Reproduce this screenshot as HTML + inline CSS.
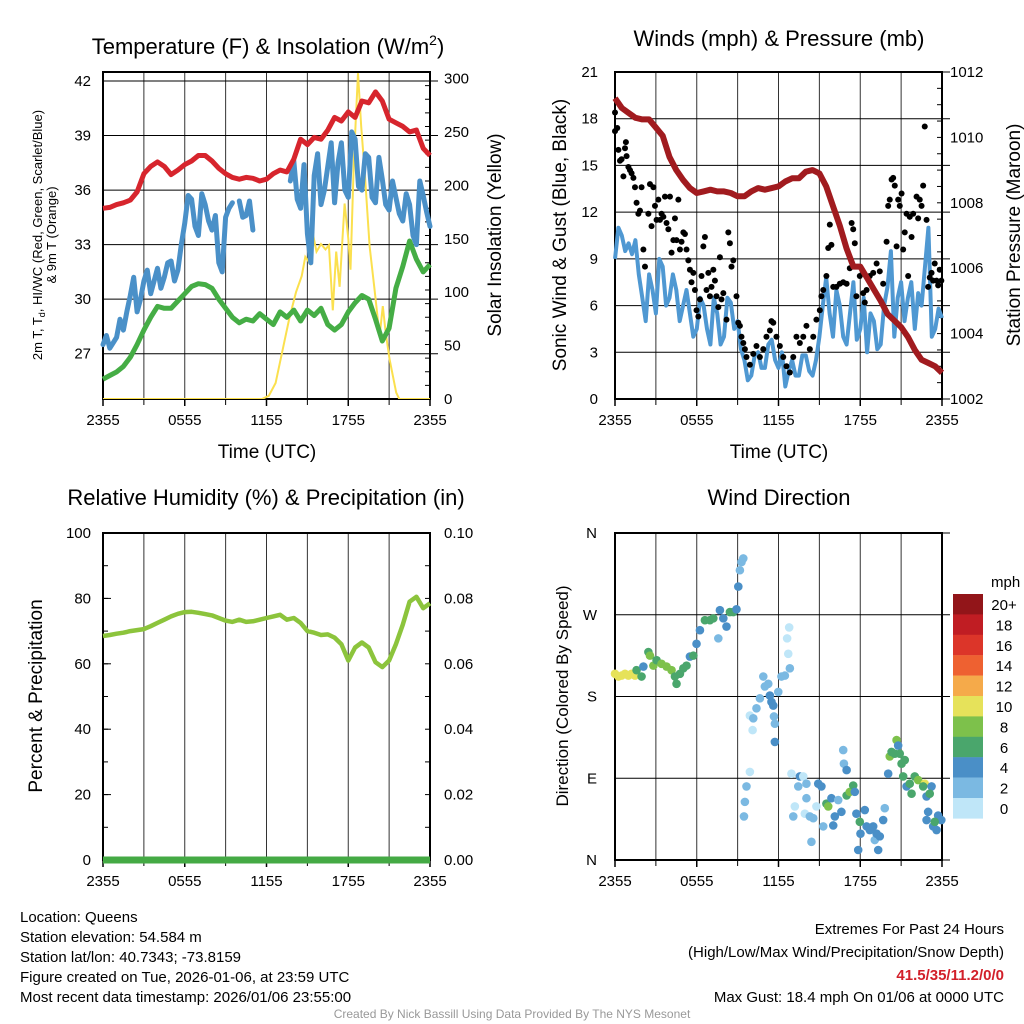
<!DOCTYPE html>
<html><head><meta charset="utf-8"><style>
body{margin:0;background:#fff}
svg{display:block;font-family:"Liberation Sans",sans-serif}
</style></head><body>
<svg id="c" width="1024" height="1024" viewBox="0 0 1024 1024" xmlns="http://www.w3.org/2000/svg">
<g font-size="22" text-anchor="middle">
<text x="268" y="54">Temperature (F) &amp; Insolation (W/m<tspan font-size="14" dy="-9">2</tspan><tspan dy="9">)</tspan></text>
<text x="779" y="46">Winds (mph) &amp; Pressure (mb)</text>
<text x="266" y="505">Relative Humidity (%) &amp; Precipitation (in)</text>
<text x="779" y="505">Wind Direction</text>
</g>
<g font-size="19" text-anchor="middle">
<text x="267" y="458">Time (UTC)</text>
<text x="779" y="458">Time (UTC)</text>
<text transform="translate(501,235) rotate(-90)">Solar Insolation (Yellow)</text>
<text transform="translate(566,235) rotate(-90)">Sonic Wind &amp; Gust (Blue, Black)</text>
<text transform="translate(1020,235) rotate(-90)">Station Pressure (Maroon)</text>
<text transform="translate(42,696) rotate(-90)">Percent &amp; Precipitation</text>
<text transform="translate(568,696) rotate(-90)" font-size="17">Direction (Colored By Speed)</text>
</g>
<g font-size="13" text-anchor="middle">
<text transform="translate(42,235) rotate(-90)">2m T, T<tspan font-size="9" dy="3">d</tspan><tspan dy="-3">, HI/WC (Red, Green, Scarlet/Blue)</tspan></text>
<text transform="translate(56,235) rotate(-90)">&amp; 9m T (Orange)</text>
</g>
<g font-size="15">
<text x="20" y="922">Location: Queens</text>
<text x="20" y="942">Station elevation: 54.584 m</text>
<text x="20" y="962">Station lat/lon: 40.7343; -73.8159</text>
<text x="20" y="982">Figure created on Tue, 2026-01-06, at 23:59 UTC</text>
<text x="20" y="1002">Most recent data timestamp: 2026/01/06 23:55:00</text>
</g>
<g font-size="15" text-anchor="end">
<text x="1004" y="934">Extremes For Past 24 Hours</text>
<text x="1004" y="957">(High/Low/Max Wind/Precipitation/Snow Depth)</text>
<text x="1004" y="980" fill="#d2202a" font-weight="bold">41.5/35/11.2/0/0</text>
<text x="1004" y="1002">Max Gust: 18.4 mph On 01/06 at 0000 UTC</text>
</g>
<text x="512" y="1018" font-size="12" fill="#999" text-anchor="middle">Created By Nick Bassill Using Data Provided By The NYS Mesonet</text>
</svg>
<script>
// ---------- data (time in minutes since 2355) ----------
const halfHourTimes = Array.from({length:49},(_,i)=>i*30);
const xTickLabels = ["2355","0555","1155","1755","2355"];
const tempTicks = [27,30,33,36,39,42];
const solarTicks = [0,50,100,150,200,250,300];
const windTicks = [0,3,6,9,12,15,18,21];
const pressTicks = [1002,1004,1006,1008,1010,1012];
const rhTicks = [0,20,40,60,80,100];
const precipTicks = ["0.00","0.02","0.04","0.06","0.08","0.10"];
const dirTicks = ["N","E","S","W","N"];
const tempRed = [35.0,35.05,35.2,35.3,35.45,35.9,36.9,37.3,37.55,37.3,36.85,37.1,37.4,37.6,37.9,37.9,37.6,37.2,36.9,36.7,36.6,36.7,36.65,36.5,36.6,36.9,37.1,37.0,37.7,38.8,38.5,38.9,38.8,39.3,40.0,39.8,40.3,40.0,40.9,40.8,41.4,40.9,39.9,39.7,39.5,39.2,39.3,38.3,37.9];
const tempBlue = [27.5,27.3,27.9,28.3,30.2,29.3,31.0,30.3,31.7,31.2,32.1,31.6,34.2,35.5,33.5,35.2,33.8,32.0,34.5,35.3,35.4,34.6,33.8,35.2,null,35.6,35.0,null,37.6,35.0,33.6,36.8,35.2,37.3,35.3,38.6,35.6,38.8,36.0,37.8,35.3,36.6,34.9,35.6,34.3,35.2,33.0,35.7,34.0];
// values at quarter past each half hour (15, 45, ... min)
const tempBlueMid = [28.0,27.6,28.9,29.3,31.2,30.0,31.6,31.0,30.6,32.0,31.0,33.0,35.7,34.0,35.8,34.3,34.6,31.5,35.0,null,34.5,35.4,null,null,null,null,null,36.5,35.5,37.4,32.0,38.0,36.0,38.6,37.5,36.0,39.2,36.2,38.0,35.6,37.8,35.2,36.5,34.7,35.8,33.5,36.5,34.8];
const tempGreen = [25.6,25.8,26.0,26.3,26.8,27.5,28.3,29.0,29.6,29.5,29.5,29.9,30.3,30.7,30.85,30.8,30.6,30.0,29.5,29.0,28.7,28.9,28.8,29.2,28.9,28.6,29.3,29.0,29.4,28.8,29.4,29.1,29.5,28.6,28.3,28.6,29.3,29.8,30.2,30.0,28.9,27.7,28.4,30.6,31.8,33.2,32.2,31.5,31.9];
const solarTimes = [0,700,730,760,790,820,850,875,891,911,924,940,960,980,995,1012,1027,1042,1064,1080,1090,1105,1123,1137,1152,1174,1196,1218,1232,1245,1262,1291,1305,1440];
const solarValues = [0,0,3,15,45,75,100,115,133,127,155,138,145,140,144,83,138,105,183,150,121,224,305,255,214,143,102,59,87,62,37,6,0,0];
const windSpeed = [9.0,10.5,10.0,10.2,6.5,8.0,5.5,8.5,6.5,7.0,6.0,5.5,4.5,6.0,3.5,5.5,4.0,6.2,5.0,2.5,1.5,3.0,2.0,3.8,2.0,0.8,2.5,1.5,2.8,1.5,4.0,7.8,4.0,6.0,3.5,7.5,4.5,3.0,5.0,3.5,7.2,4.0,7.5,6.5,4.5,6.0,11.0,4.5,5.2];
const windSpeedMid = [11.0,9.5,9.3,8.0,5.0,7.0,9.0,6.0,8.0,5.0,7.0,4.0,6.5,4.5,6.5,3.5,6.5,4.5,3.2,1.2,2.8,2.0,3.5,2.5,3.0,1.8,1.5,2.8,1.8,2.5,6.0,5.5,7.0,4.0,5.5,3.8,6.5,5.5,3.2,6.0,9.5,6.5,5.0,7.5,6.8,8.5,4.0,5.8];
const pressure = [1011.2,1010.9,1010.75,1010.6,1010.55,1010.55,1010.3,1010.05,1009.4,1009.0,1008.7,1008.45,1008.3,1008.35,1008.4,1008.35,1008.35,1008.3,1008.2,1008.2,1008.35,1008.45,1008.4,1008.45,1008.5,1008.65,1008.75,1008.75,1008.95,1009.0,1008.9,1008.5,1007.9,1007.3,1006.6,1006.05,1006.05,1005.7,1005.35,1005.0,1004.6,1004.4,1004.2,1003.9,1003.5,1003.2,1003.1,1003.0,1002.8];
const gustTimes = [0,0,10,15,22,29,37,44,48,51,59,66,73,81,88,95,103,110,117,125,132,147,154,161,169,176,183,191,198,205,213,220,227,235,242,249,257,264,271,279,286,293,301,308,315,323,330,337,345,352,359,367,374,381,389,396,403,411,418,425,433,440,447,455,462,469,477,491,499,506,513,521,535,543,550,557,565,572,579,594,609,623,638,653,667,682,689,697,711,726,741,755,770,785,799,814,829,843,858,873,887,902,909,917,931,939,946,953,961,975,990,1005,1020,1034,1042,1049,1056,1063,1078,1093,1100,1108,1122,1137,1152,1166,1181,1196,1203,1210,1218,1225,1232,1240,1247,1254,1262,1269,1276,1284,1291,1298,1306,1313,1328,1335,1342,1350,1357,1364,1372,1379,1386,1394,1401,1408,1416,1423,1430,1437];
const gustValues = [17.2,18.4,17.4,16.0,15.3,15.4,14.3,16.1,16.5,15.6,14.9,14.7,14.5,14.2,13.6,12.6,11.9,12.1,13.6,9.6,8.5,11.9,13.8,11.1,13.6,12.4,11.5,12.8,11.5,11.9,11.7,13.0,11.3,10.9,13.0,9.4,10.2,11.6,10.2,12.8,9.6,10.1,10.7,10.6,9.6,8.9,8.3,7.5,8.1,7.0,5.7,5.3,6.4,7.9,9.8,10.4,7.0,8.1,6.6,7.2,8.3,7.6,6.6,5.9,9.1,6.4,6.8,5.1,10.7,10.0,8.5,8.9,6.6,4.9,4.7,4.0,3.6,3.2,2.7,2.2,2.9,3.4,2.7,3.2,4.0,4.4,5.0,4.9,4.0,3.4,2.7,2.1,1.7,2.7,4.0,3.6,4.0,4.7,3.2,4.0,5.1,5.7,6.6,7.0,7.9,9.7,11.2,9.9,7.2,7.2,7.4,7.5,7.4,8.4,11.3,10.9,10.0,6.6,7.9,6.8,6.2,7.0,7.9,8.1,8.7,8.2,7.4,10.1,12.4,12.8,14.1,14.2,13.7,9.8,12.8,12.4,13.2,9.6,10.7,11.9,7.9,11.7,10.4,11.9,13.0,11.6,12.8,12.4,13.7,17.5,11.5,7.2,7.8,8.1,7.6,8.7,7.6,7.3,8.3,7.6];
const humidity = [68.5,68.8,69.2,69.5,70.0,70.3,70.6,71.5,72.5,73.5,74.5,75.3,75.8,75.9,75.6,75.2,74.8,74.0,73.2,72.8,73.5,72.8,73.0,73.5,74.0,74.5,75.0,73.5,74.0,72.5,70.0,69.5,68.8,69.0,68.0,66.0,61.0,65.0,66.5,65.0,60.5,59.0,61.0,66.0,72.0,79.0,80.5,77.0,78.5];
const precip = halfHourTimes.map(()=>0);
const dirTimes = [0,15,29,44,59,73,88,95,117,125,147,154,169,183,205,227,249,264,271,286,301,315,330,345,359,374,396,418,433,455,462,477,491,506,521,535,543,550,557,565,594,579,572,568,594,609,606,623,638,653,660,675,682,689,697,700,704,704,719,733,748,770,763,758,767,777,814,807,829,843,785,792,836,858,873,865,843,887,895,909,917,931,939,953,961,968,983,997,1005,1008,1020,1020,1034,1049,1056,1063,1071,1078,1081,1100,1108,1122,1137,1144,1152,1159,1166,1181,1188,1203,1210,1218,1232,1240,1247,1254,1262,1269,1276,1284,1298,1306,1320,1335,1364,1357,1372,1394,1386,1379,1372,1401,1416,1423,1437,1408];
const dirDegrees = [205,202,203,205,203,205,203,209,202,213,229,225,214,220,216,213,209,202,194,205,211,214,224,225,238,253,264,264,266,244,275,266,257,273,273,276,301,319,328,332,97,81,64,48,159,156,143,167,178,202,191,194,181,174,170,158,150,130,185,202,203,211,227,244,256,95,92,81,92,84,48,59,51,48,46,20,68,59,84,81,37,62,59,68,38,48,66,53,121,106,99,71,75,82,75,51,11,42,29,55,37,33,37,22,29,11,26,44,57,95,114,119,117,132,126,117,106,92,110,81,84,73,92,88,84,81,70,81,73,53,44,37,33,49,44,42];
const dirSpeeds = [10,10,10,10,10,10,10,6,7,4,7,8,8,7,8,8,8,6,6,6,6,6,4,6,4,4,6,6,6,3,4,4,4,6,6,4,4,3,2,2,1,3,3,3,1,2,1,3,3,3,3,3,4,4,4,3,3,4,3,3,3,2,1,1,1,1,4,3,1,3,2,1,1,3,3,3,3,1,4,4,3,6,8,4,4,4,3,4,3,3,4,6,8,6,4,4,4,6,4,4,4,4,4,2,4,4,4,4,2,4,8,7,7,8,4,6,6,6,6,4,6,6,7,8,10,6,4,4,6,4,4,4,4,4,4,6];
const speedLabels = ["20+","18","16","14","12","10","8","6","4","2","0"];
const speedColors = ["#bfe6f8","#7bb9e2","#4a8fc7","#4aa66c","#7dc14b","#e6e25a","#f5aa4a","#ee6131","#dc3529","#c01d23","#921519"];

// ---------- helpers ----------
const svg = document.getElementById('c');
const NS = 'http://www.w3.org/2000/svg';
function mk(tag, attrs, parent){const e=document.createElementNS(NS,tag);for(const k in attrs)e.setAttribute(k,attrs[k]);(parent||svg).appendChild(e);return e;}
function lin(d0,d1,r0,r1){return v=>r0+(v-d0)*(r1-r0)/(d1-d0);}
function pathFrom(ts,vs,sx,sy){let d='',pen=false;for(let i=0;i<ts.length;i++){if(vs[i]==null){pen=false;continue;}d+=(pen?'L':'M')+sx(ts[i]).toFixed(1)+','+sy(vs[i]).toFixed(1);pen=true;}return d;}
function interleave(main,mid){const ts=[],vs=[];main.forEach((v,i)=>{ts.push(halfHourTimes[i]);vs.push(v);if(i<mid.length){ts.push(halfHourTimes[i]+15);vs.push(mid[i]);}});return [ts,vs];}

function frame(g,L,R,T,B,hGrid){
  for(let i=1;i<8;i++){const x=L+(R-L)*i/8;
    const ln=mk('line',{x1:x,x2:x,y1:T,y2:B,stroke:'#333','stroke-width':1},g);
    
    
    mk('line',{x1:x,x2:x,y1:B,y2:B+6,stroke:'#000','stroke-width':1},g);}
  hGrid.forEach(y=>{const ln=mk('line',{x1:L,x2:R+8,y1:y,y2:y,stroke:'#000','stroke-width':1},g);
    
    });
  const r=mk('rect',{x:L,y:T,width:R-L,height:B-T,fill:'none',stroke:'#000','stroke-width':2},g);
  
  
  for(let i=0;i<5;i++){const x=L+(R-L)*i/4;
    mk('line',{x1:x,x2:x,y1:B,y2:B+7,stroke:'#000','stroke-width':1.5},g);
    const t=mk('text',{x:x,y:B+26,'font-size':15,'text-anchor':'middle'},g);t.textContent=xTickLabels[i];
    
    }
}
function yLabels(g,ticks,sy,x,anchor){ticks.forEach(v=>{const t=mk('text',{x:x,y:sy(v)+5,'font-size':15,'text-anchor':anchor},g);t.textContent=v;
  
  });}
function minor(g,x,T,B,n,dir){for(let i=1;i<n;i++){const y=T+(B-T)*i/n;mk('line',{x1:x,x2:x+dir*5,y1:y,y2:y,stroke:'#000','stroke-width':1},g);}}

// ---------- panel 1: temperature ----------
{const L=103,R=430,T=72,B=399;
 const g=mk('g',{});
 const sx=lin(0,1440,L,R), sy=lin(27,42,353.7,81), sS=lin(0,300,399,78.5);
 const clip=mk('clipPath',{id:'cp1'},g);mk('rect',{x:L,y:T,width:R-L,height:B-T},clip);
 frame(g,L,R,T,B,tempTicks.map(sy));
 minor(g,R,T,B,24,-1);
 yLabels(g,tempTicks,sy,91,'end');
 yLabels(g,solarTicks,sS,444,'start');
 const s=mk('path',{d:pathFrom(solarTimes,solarValues,sx,sS),fill:'none',stroke:'#fbe04e','stroke-width':2,'clip-path':'url(#cp1)'},g);
 
 const gr=mk('path',{d:pathFrom(halfHourTimes,tempGreen,sx,sy),fill:'none',stroke:'#45ad45','stroke-width':5,'stroke-linejoin':'round'},g);
 
 const [bt,bv]=interleave(tempBlue,tempBlueMid);
 const bl=mk('path',{d:pathFrom(bt,bv,sx,sy),fill:'none',stroke:'#4a90c8','stroke-width':5,'stroke-linejoin':'round','stroke-linecap':'round'},g);
 
 const rd=mk('path',{d:pathFrom(halfHourTimes,tempRed,sx,sy),fill:'none',stroke:'#d7252d','stroke-width':5,'stroke-linejoin':'round'},g);
 
}
// ---------- panel 2: winds ----------
{const L=615,R=942,T=72,B=399;
 const g=mk('g',{});
 const sx=lin(0,1440,L,R), sy=lin(0,21,B,T), sP=lin(1002,1012,B,T);
 frame(g,L,R,T,B,windTicks.map(sy));
 minor(g,R,T,B,20,-1);
 yLabels(g,windTicks,sy,598,'end');
 yLabels(g,pressTicks,sP,950,'start');
 const [wt,wv]=interleave(windSpeed,windSpeedMid);
 const w=mk('path',{d:pathFrom(wt,wv,sx,sy),fill:'none',stroke:'#4f98d2','stroke-width':4,'stroke-linejoin':'round'},g);
 
 gustTimes.forEach((t,i)=>{const c=mk('circle',{cx:sx(t),cy:sy(gustValues[i]),r:3,fill:'#000'},g);
   });
 const p=mk('path',{d:pathFrom(halfHourTimes,pressure,sx,sP),fill:'none',stroke:'#a11b1f','stroke-width':6,'stroke-linejoin':'round'},g);
 
}
// ---------- panel 3: humidity ----------
{const L=103,R=430,T=533,B=860;
 const g=mk('g',{});
 const sx=lin(0,1440,L,R), sy=lin(0,100,B,T), sPr=lin(0,0.1,B,T);
 frame(g,L,R,T,B,[]);
 minor(g,L,T,B,10,1);minor(g,R,T,B,10,-1);
 rhTicks.forEach(v=>mk('line',{x1:L,x2:L+8,y1:sy(v),y2:sy(v),stroke:'#000'},g));
 yLabels(g,rhTicks,sy,91,'end');
 precipTicks.forEach((v,i)=>{const t=mk('text',{x:444,y:sy(rhTicks[i])+5,'font-size':15},g);t.textContent=v;
   });
 const pr=mk('path',{d:pathFrom(halfHourTimes,precip,sx,sPr),fill:'none',stroke:'#44aa44','stroke-width':7},g);
 
 const h=mk('path',{d:pathFrom(halfHourTimes,humidity,sx,sy),fill:'none',stroke:'#8cc43c','stroke-width':4.5,'stroke-linejoin':'round'},g);
 
}
// ---------- panel 4: direction ----------
{const L=615,R=942,T=533,B=860;
 const g=mk('g',{});
 const sx=lin(0,1440,L,R), sy=lin(0,360,B,T);
 frame(g,L,R,T,B,[90,180,270,0,360].map(sy));
 dirTicks.forEach((v,i)=>{const t=mk('text',{x:597,y:sy(i*90)+5,'font-size':15,'text-anchor':'end'},g);t.textContent=v;
   });
 dirTimes.forEach((t,i)=>{const bin=Math.min(10,Math.floor(dirSpeeds[i]/2));
   const c=mk('circle',{cx:sx(t),cy:sy(dirDegrees[i]),r:4.3,fill:speedColors[bin]},g);
   });
 const lg=mk('g',{},g);
 const lt=mk('text',{x:991,y:587,'font-size':15},lg);lt.textContent='mph';
 
 speedLabels.forEach((lab,i)=>{const y=594+i*20.4;
   const r=mk('rect',{x:953,y:y,width:30,height:20.6,fill:speedColors[10-i]},lg);
   
   const t=mk('text',{x:1004,y:y+16,'font-size':15,'text-anchor':'middle'},lg);t.textContent=lab;
   });
}
</script>
</body></html>
